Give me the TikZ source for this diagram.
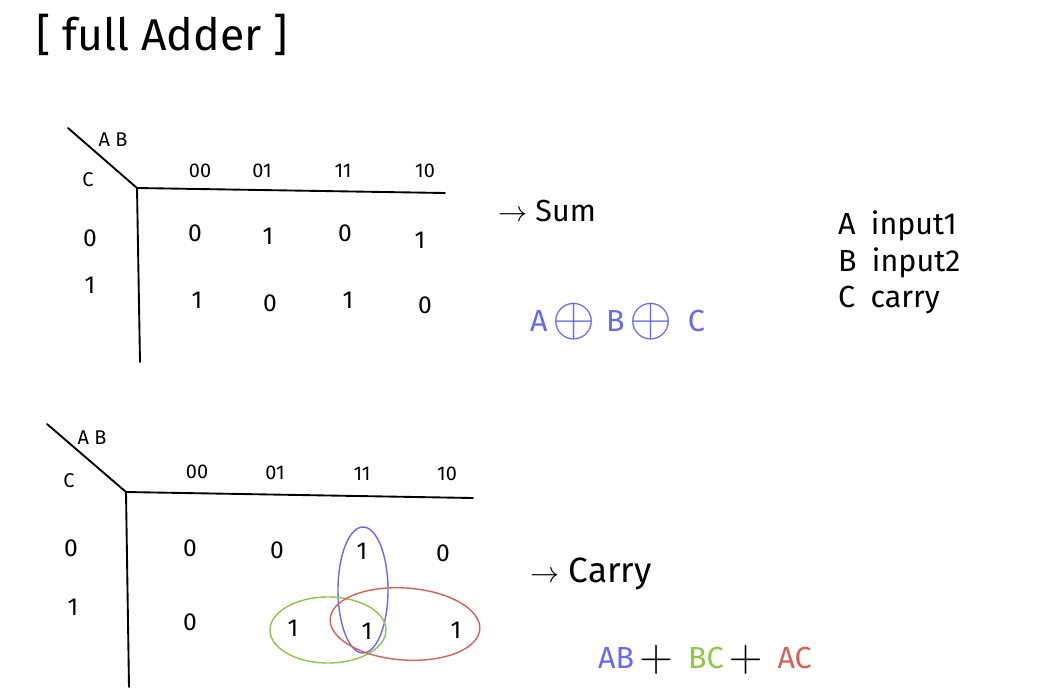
\documentclass[tikz,border=0pt]{standalone}
\usepackage{fontspec}
\setmainfont{Fira Sans}
\definecolor{penblue}{RGB}{105,105,240}
\definecolor{pengreen}{RGB}{140,200,70}
\definecolor{penred}{RGB}{220,95,85}
\newcommand{\bigxor}{\raisebox{-0.15em}{\scalebox{1.9}{$\oplus$}}}
\newcommand{\bigplus}{\raisebox{-0.1em}{\scalebox{1.6}{$+$}}}
\begin{document}
\begin{tikzpicture}[x=0.03cm, y=-0.03cm, line cap=round, line join=round,
    pen/.style={line width=1.6pt},
    ring/.style={line width=1.2pt},
    cell/.style={font=\fontsize{21}{23}\selectfont, inner sep=0pt},
    head/.style={font=\fontsize{17}{19}\selectfont, inner sep=0pt},
    note/.style={font=\fontsize{26}{28}\selectfont, inner sep=0pt, anchor=west}]
    \useasboundingbox (0,0) rectangle (1042,695);

    % Title
    \node[font=\fontsize{38}{42}\selectfont] (title) at (162,35) {[ full Adder ]};

    % Sum map: axes
    \draw[pen] (68,128) -- (137,188);
    \draw[pen] (137,188) -- (445,193);
    \draw[pen] (137,188) -- (140,362);
    \node[head] (sab) at (113,140) {A B};
    \node[head] (sc) at (88,180) {C};
    \node[head] (sh1) at (200,171) {00};
    \node[head] (sh2) at (262,171) {01};
    \node[head] (sh3) at (343,171) {11};
    \node[head] (sh4) at (425,171) {10};
    \node[cell] (sr0) at (90,238) {0};
    \node[cell] (sr1) at (90,285) {1};

    % Sum map: values
    \node[cell] (s01) at (195,233) {0};
    \node[cell] (s02) at (268,236) {1};
    \node[cell] (s03) at (345,233) {0};
    \node[cell] (s04) at (420,240) {1};
    \node[cell] (s11) at (197,300) {1};
    \node[cell] (s12) at (270,303) {0};
    \node[cell] (s13) at (348,300) {1};
    \node[cell] (s14) at (425,305) {0};

    % Sum result
    \node[note, text=penblue] (sumeq) at (530,322) {A\,\bigxor\,\,B\,\bigxor\enspace C};
    \node[note] (sum) at (498,211) {$\rightarrow$ Sum};

    % Legend
    \node[note] (la) at (838,226) {A\enspace input1};
    \node[note] (lb) at (838,263) {B\enspace input2};
    \node[note] (lc) at (838,300) {C\enspace carry};

    % Carry map: axes
    \draw[pen] (47,424) -- (126,492);
    \draw[pen] (126,492) -- (473,498);
    \draw[pen] (126,492) -- (129,687);
    \node[head] (cab) at (92,438) {A B};
    \node[head] (cc) at (69,481) {C};
    \node[head] (ch1) at (197,472) {00};
    \node[head] (ch2) at (275,473) {01};
    \node[head] (ch3) at (362,474) {11};
    \node[head] (ch4) at (447,474) {10};
    \node[cell] (cr0) at (71,548) {0};
    \node[cell] (cr1) at (73,607) {1};

    % Carry map: values
    \node[cell] (c01) at (190,548) {0};
    \node[cell] (c02) at (277,550) {0};
    \node[cell] (c03) at (362,551) {1};
    \node[cell] (c04) at (443,553) {0};
    \node[cell] (c11) at (190,622) {0};
    \node[cell] (c12) at (293,628) {1};
    \node[cell] (c13) at (367,631) {1};
    \node[cell] (c14) at (456,630) {1};

    % Groups
    \draw[ring, penblue] (363,590) ellipse [x radius=25, y radius=63];
    \draw[ring, pengreen] (328,630) ellipse [x radius=58, y radius=33];
    \draw[ring, penred, rotate around={-4:(405,624)}] (405,624) ellipse [x radius=75, y radius=36];

    % Carry result
    \node[note, font=\fontsize{30}{32}\selectfont] (carry) at (530,574) {$\rightarrow$ Carry};
    \node[note] (cab1) at (598,660) {\textcolor{penblue}{AB}\,\bigplus\enspace\textcolor{pengreen}{BC}\,\bigplus\enspace\textcolor{penred}{AC}};
\end{tikzpicture}
\end{document}
